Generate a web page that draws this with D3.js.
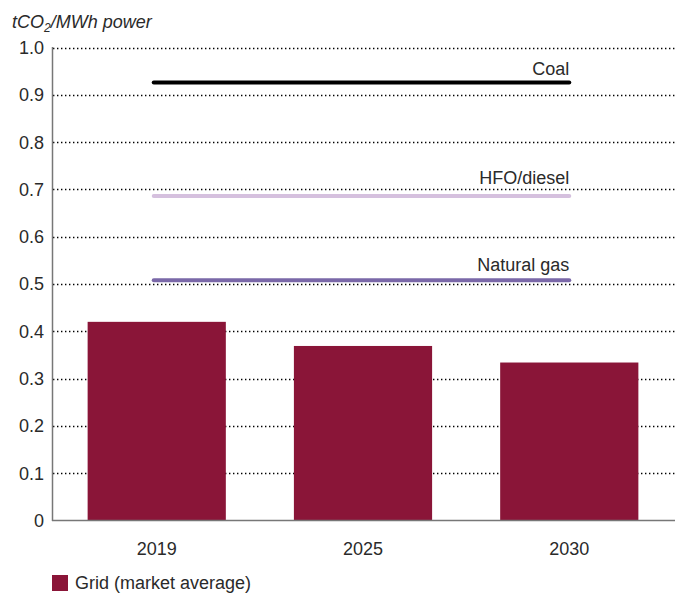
<!DOCTYPE html>
<html><head><meta charset="utf-8">
<script src="https://cdn.jsdelivr.net/npm/d3@7"></script>
<style>
body{margin:0;background:#fff;}
text{font-family:"Liberation Sans",Arial,sans-serif;fill:#2a2a2a;}
</style></head>
<body><svg id="c" width="686" height="594"></svg>
<script>
const categories = ["2019","2025","2030"];
const gridValues = [0.42, 0.369, 0.334];
const refNames = ["Coal","HFO/diesel","Natural gas"];
const refValues = [0.926, 0.686, 0.508];
const refColors = ["#000000","#d5c0de","#7a68a8"];
const yTicks = [0,0.1,0.2,0.3,0.4,0.5,0.6,0.7,0.8,0.9,1.0];
const barColor = "#8a1538";

const svg = d3.select("#c");
const y = d3.scaleLinear().domain([0,1]).range([520.5,47.5]);
const x = d3.scaleBand().domain(categories).range([50.5,675.5]).paddingInner(0.33).paddingOuter(0.18);

// gridlines
svg.append("g").selectAll("line").data(yTicks.filter(d=>d>0)).join("line")
  .attr("x1",53).attr("x2",676).attr("y1",d=>Math.round(y(d))+0.5).attr("y2",d=>Math.round(y(d))+0.5)
  .attr("stroke","#000").attr("stroke-width",1.4).attr("stroke-dasharray","1.4,2.6");

// y tick labels
svg.append("g").selectAll("text").data(yTicks).join("text")
  .attr("x",44).attr("y",d=>y(d)).attr("dy","0.36em").attr("text-anchor","end")
  .style("font-size","18px").text(d=>d===0?"0":d.toFixed(1));

// bars
svg.append("g").selectAll("rect").data(gridValues).join("rect")
  .attr("x",(d,i)=>x(categories[i])).attr("width",x.bandwidth())
  .attr("y",d=>y(d)).attr("height",d=>y(0)-y(d)).attr("fill",barColor);

// axes lines
svg.append("line").attr("x1",52.5).attr("x2",52.5).attr("y1",47).attr("y2",521).attr("stroke","#777").attr("stroke-width",1.5);
svg.append("line").attr("x1",52).attr("x2",675).attr("y1",520.5).attr("y2",520.5).attr("stroke","#777").attr("stroke-width",1.5);

// reference lines
const xs = x(categories[0])+x.bandwidth()/2-3, xe = x(categories[2])+x.bandwidth()/2;
const labelOff = [8,12,9];
refValues.forEach((v,i)=>{
  svg.append("line").attr("x1",xs).attr("x2",xe).attr("y1",y(v)).attr("y2",y(v))
    .attr("stroke",refColors[i]).attr("stroke-width",4).attr("stroke-linecap","round");
  svg.append("text").attr("x",xe).attr("y",y(v)-labelOff[i]).attr("text-anchor","end")
    .style("font-size","18px").text(refNames[i]);
});

// x labels
svg.append("g").selectAll("text").data(categories).join("text")
  .attr("x",d=>x(d)+x.bandwidth()/2).attr("y",555).attr("text-anchor","middle")
  .style("font-size","18px").text(d=>d);

// title
const t = svg.append("text").attr("x",12).attr("y",28).style("font-size","18px").style("font-style","italic");
t.append("tspan").text("tCO");
t.append("tspan").attr("dy",4).style("font-size","12px").text("2");
t.append("tspan").attr("dy",-4).text("/MWh power");

// legend
svg.append("rect").attr("x",52).attr("y",575).attr("width",16).attr("height",16).attr("fill",barColor);
svg.append("text").attr("x",75).attr("y",589).style("font-size","18px").text("Grid (market average)");
</script></body></html>
